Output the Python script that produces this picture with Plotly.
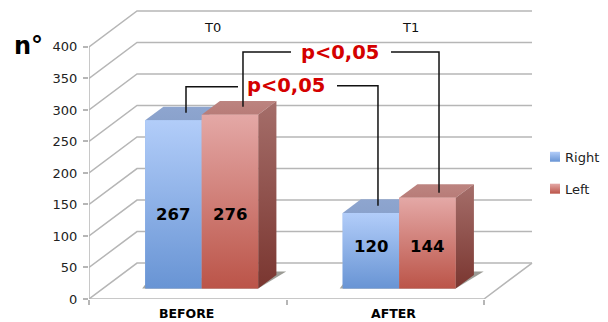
import plotly.graph_objects as go

# ---- data ----
categories = ["BEFORE", "AFTER"]
right_values = [267, 120]
left_values = [276, 144]
series_names = ["Right", "Left"]
y_ticks = [0, 50, 100, 150, 200, 250, 300, 350, 400]
period_labels = ["T0", "T1"]
sig_label = "p<0,05"

# ---- frame geometry (pixels of the 608x322 page) ----
W, H = 608, 322
L, R, T, B = 89, 484, 47, 299.5   # front plane of the 3-D box
PX_X = (R - L) / 2          # px per category
PX_Y = (B - T) / 400        # px per value unit
DEPTH_X = 48 / PX_X         # wall depth in x units
DEPTH_Y = 36 / PX_Y         # wall depth in y units
F0, F1 = 0.29, 0.67         # depth of the bar front / back
BAR_W = 56.5 / PX_X
GRID = "#b6b6b6"

def xp(px):
    return (px - L) / (W - L)

def yp(py):
    return (B - py) / B

def xd(px):
    return (px - L) / PX_X - 0.5

def yd(py):
    return (B - py) / PX_Y

x_pos = list(range(len(categories)))
base = F0 * DEPTH_Y
shift = F0 * DEPTH_X
offsets = [shift - BAR_W, shift]

fig = go.Figure()

# real bars
flat = ["#8cb0e8", "#c9706a"]
for name, vals, off, col in zip(series_names, [right_values, left_values], offsets, flat):
    fig.add_trace(go.Bar(name=name, x=x_pos, y=vals, base=base, width=BAR_W, offset=off,
                         marker=dict(color=col, line=dict(width=0)), showlegend=False))

def line(xs, ys, color=GRID, width=1.5):
    fig.add_trace(go.Scatter(x=xs, y=ys, mode="lines", line=dict(color=color, width=width),
                             showlegend=False, hoverinfo="skip"))

# walls and axis lines
for t in y_ticks:
    line([-0.5, -0.5 + DEPTH_X, 1.5 + DEPTH_X], [t, t + DEPTH_Y, t + DEPTH_Y])
line([-0.5, -0.5], [y_ticks[0], y_ticks[-1]])
line([-0.5, 1.5, 1.5 + DEPTH_X], [0, 0, DEPTH_Y])

def poly(xs, ys, top, bottom):
    fig.add_trace(go.Scatter(x=xs + xs[:1], y=ys + ys[:1], mode="lines", line=dict(width=0),
                             fill="toself",
                             fillgradient=dict(type="vertical", colorscale=[[0, bottom], [1, top]]),
                             showlegend=False, hoverinfo="skip"))

dx_bar = (F1 - F0) * DEPTH_X
dy_bar = (F1 - F0) * DEPTH_Y
for i in x_pos:
    x0 = i + shift - BAR_W
    xm = i + shift
    x1 = i + shift + BAR_W
    rv, lv = right_values[i], left_values[i]
    # floor shadow
    poly([x0 - 3 / PX_X, x1, x1 + 28 / PX_X, x1, x0],
         [base, base, base + 17 / PX_Y, base + 17 / PX_Y, base + 4 / PX_Y],
         "#9a9a94", "#a8a8a2")
    # right bar: top + front
    poly([x0, xm, xm + dx_bar, x0 + dx_bar], [base + rv, base + rv, base + rv + dy_bar, base + rv + dy_bar],
         "#8ea5cf", "#8aa2cc")
    poly([x0, xm, xm, x0], [base, base, base + rv, base + rv], "#b2cdf9", "#6894d4")
    # left bar: top + side + front
    poly([xm, x1, x1 + dx_bar, xm + dx_bar], [base + lv, base + lv, base + lv + dy_bar, base + lv + dy_bar],
         "#bc8480", "#b87c78")
    poly([x1, x1 + dx_bar, x1 + dx_bar, x1], [base, base + dy_bar, base + lv + dy_bar, base + lv],
         "#a56e6a", "#7a3630")
    poly([xm, x1, x1, xm], [base, base, base + lv, base + lv], "#e4a8a6", "#bb5448")

# legend swatches
for (px0, py0), top, bottom in zip([(550, 152), (550, 184)], ["#b2cdf9", "#e4a8a6"], ["#6894d4", "#bb5448"]):
    poly([xd(px0), xd(px0 + 10), xd(px0 + 10), xd(px0)], [yd(py0 + 10), yd(py0 + 10), yd(py0), yd(py0)], top, bottom)

ann = []
def text(px, py, s, size, color="#111111", bold=False, font="DejaVu Sans", anchor="center"):
    ann.append(dict(xref="paper", yref="paper", x=xp(px), y=yp(py), text=f"<b>{s}</b>" if bold else s,
                    showarrow=False, xanchor=anchor, yanchor="middle",
                    font=dict(family=font, size=size, color=color)))

text(28, 46, "n°", 24, "#000000", True)
text(212, 28, period_labels[0], 13)
text(410, 28, period_labels[1], 13)
text(186, 314, categories[0], 12.5, "#000000", True)
text(393, 314, categories[1], 12.5, "#000000", True)
text(286, 86, sig_label, 19.5, "#d40000", True)
text(340, 53, sig_label, 19.5, "#d40000", True)
text(563, 158, series_names[0], 13, "#222222", anchor="left")
text(563, 190, series_names[1], 13, "#222222", anchor="left")
for i, (py, rv, lv) in enumerate(zip([215, 247], right_values, left_values)):
    text(L + (i + 0.5 + shift - BAR_W / 2) * PX_X, py, str(rv), 16.5, "#000000", True)
    text(L + (i + 0.5 + shift + BAR_W / 2) * PX_X, py, str(lv), 16.5, "#000000", True)

def conn(points):
    path = "M" + " L".join(f"{xp(a):.4f},{yp(b):.4f}" for a, b in points)
    return dict(type="path", xref="paper", yref="paper", path=path, line=dict(color="#111111", width=1.5))

shapes = [
    conn([(186, 113), (186, 87), (238, 87)]),
    conn([(337, 86), (378, 86), (378, 206)]),
    conn([(243, 107), (243, 52), (291, 52)]),
    conn([(391, 52), (439, 52), (439, 193)]),
]

fig.update_layout(
    width=W, height=H, margin=dict(l=L, r=0, t=0, b=H - B, pad=0, autoexpand=False),
    paper_bgcolor="white", plot_bgcolor="white", barmode="overlay", showlegend=False,
    font=dict(family="DejaVu Sans", color="#222222"),
    annotations=ann, shapes=shapes,
    xaxis=dict(range=[-0.5, xd(W)], tickmode="array", tickvals=[-0.5, 0.5, 1.5], ticktext=["", "", ""],
               showgrid=False, zeroline=False, showline=False,
               ticks="outside", ticklen=5, tickcolor=GRID, tickwidth=1.5),
    yaxis=dict(range=[0, yd(0)], tickmode="array", tickvals=y_ticks, showgrid=False, zeroline=False,
               showline=False, ticks="outside", ticklen=5,
               tickcolor=GRID, tickwidth=1.5, tickfont=dict(size=13, color="#222222"), ticklabelstandoff=3),
)

fig.write_html("out.html", config={"displayModeBar": False}, post_script="document.body.style.margin='0';")
